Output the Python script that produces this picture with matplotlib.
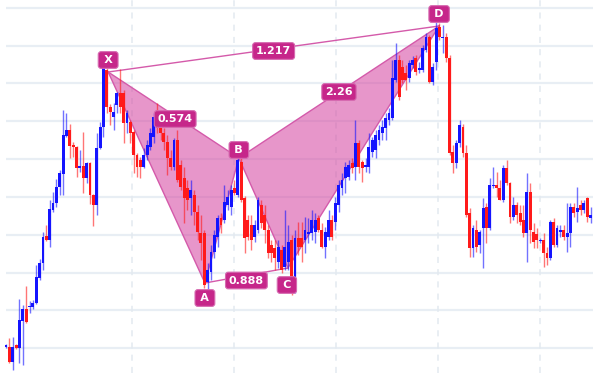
import matplotlib
matplotlib.use("Agg")
import matplotlib.pyplot as plt
import numpy as np

open_d = [347,347,362,345,348,321,309,307,307,303,278,263,236,240,210,203,187,174,136,130,
          145,147,168,166,178,163,195,205,148,127,70,107,117,105,93,93,123,122,132,155,
          160,167,155,147,137,117,127,133,142,158,167,140,165,178,188,198,195,212,233,233,
          282,272,252,237,218,220,205,207,188,195,162,198,220,225,237,230,205,215,230,245,
          248,262,250,267,262,240,290,238,238,240,234,233,232,218,230,247,237,220,222,205,
          188,178,177,163,167,143,162,167,167,152,150,140,133,128,120,118,80,60,67,73,
          78,65,58,70,70,50,37,82,62,27,38,37,58,152,163,143,127,153,213,248,
          230,245,228,207,228,186,185,188,200,168,183,217,205,213,220,233,192,232,234,241,
          240,253,258,222,245,232,230,237,233,207,212,205,210,198,218]
close_d = [345,362,347,348,320,309,322,306,303,277,263,237,240,209,203,187,173,135,130,146,
           147,168,166,178,163,195,205,148,127,68,107,112,112,93,107,123,113,133,155,167,
           167,155,145,133,117,128,133,142,158,167,140,180,187,198,200,190,212,232,243,285,
           270,252,235,218,225,202,197,190,193,160,200,238,237,240,225,200,223,230,253,253,
           258,247,270,247,242,290,238,247,247,230,232,220,220,230,247,232,220,237,203,185,
           180,167,165,168,143,167,168,165,147,140,135,130,127,118,113,78,60,97,80,80,
           63,60,72,68,48,37,82,67,28,37,37,58,153,163,143,125,153,215,248,228,
           247,232,208,228,185,185,188,200,168,183,217,205,215,222,233,192,230,242,240,240,
           253,258,222,245,228,230,237,233,207,213,208,210,203,217,215]
high_d = [344,338,337,344,299,305,286,301,300,265,259,232,225,200,192,179,170,110,113,124,
          142,146,150,132,162,162,194,133,122,66,68,104,103,92,69,90,110,120,130,153,
          157,148,140,128,113,103,120,128,135,150,138,130,160,167,180,180,190,205,215,230,
          263,245,230,215,213,185,190,185,180,158,158,196,215,215,220,197,200,205,225,240,
          240,240,245,210,225,235,230,222,222,217,218,210,213,215,223,227,210,215,197,180,
          173,162,160,158,120,140,160,158,133,137,130,125,120,113,108,60,43,55,60,65,
          60,56,55,62,45,33,35,63,22,23,25,33,55,145,140,120,124,145,208,225,
          220,230,198,203,178,167,172,180,165,160,182,197,202,205,205,173,183,223,228,238,
          233,247,220,218,225,225,225,203,203,203,187,200,200,197,207]
low_d = [348,363,370,349,363,365,323,313,309,304,280,270,241,247,212,207,195,195,137,158,
         157,177,172,193,183,204,226,215,149,137,113,125,130,113,113,143,133,143,173,177,
         178,168,160,150,143,133,140,150,175,170,170,182,190,223,210,215,225,240,260,288,
         302,280,258,247,233,223,210,215,195,197,202,253,240,250,242,233,228,243,258,262,
         270,268,273,270,270,295,293,255,262,253,243,240,243,232,248,258,240,240,230,212,
         195,193,180,173,180,173,182,172,173,157,158,145,140,140,125,120,82,100,83,90,
         82,68,75,73,72,52,83,85,70,40,53,62,155,173,168,147,157,217,257,257,
         252,253,268,243,230,188,197,200,202,185,223,220,223,225,237,262,243,248,248,243,
         267,265,260,247,247,237,240,252,247,217,222,215,213,222,223]

# Harmonic pattern points (candle index, depth from top)
pattern_names = ["X", "A", "B", "C", "D"]
pattern_idx = [30.4, 59.2, 69.3, 83.9, 128.9]
pattern_d = [72, 283, 158, 268, 26]
ratio_labels = ["0.574", "1.217", "0.888", "2.26"]

TOP = 373.0
o = TOP - np.array(open_d, float)
c = TOP - np.array(close_d, float)
h = TOP - np.array(high_d, float)
l = TOP - np.array(low_d, float)
n = len(o)
x = np.arange(n)
py = TOP - np.array(pattern_d, float)
px = np.array(pattern_idx)

fig = plt.figure(figsize=(6.0, 3.73), dpi=100)
ax = fig.add_axes([0, 0, 1, 1])
ax.set_xlim(-6 / 3.36, 594 / 3.36)
ax.set_ylim(0, TOP)
ax.axis("off")

# grid
grid_levels = [365, 327, 290, 252, 214, 176, 138, 100, 63, 25]
for g in grid_levels:
    ax.plot([0, 174.8], [g, g], color="#e8eef4", lw=1.6, zorder=0, solid_capstyle="butt")
vgrid = [37.5, 67.9, 98.2, 128.6, 159.0]
for v in vgrid:
    ax.plot([v, v], [0, TOP], color="#e3eaf0", lw=1.1, ls=(0, (4, 4)), zorder=0)

# pattern fill (under candles)
fill = "#d4419f"
edge = "#d45aaa"
ax.fill([px[0], px[1], px[2]], [py[0], py[1], py[2]], color=fill, alpha=0.55, lw=0, zorder=1)
ax.fill([px[2], px[3], px[4]], [py[2], py[3], py[4]], color=fill, alpha=0.55, lw=0, zorder=1)
for (a, b) in [(0, 1), (1, 2), (0, 2), (2, 3), (3, 4), (2, 4), (0, 4), (1, 3)]:
    ax.plot([px[a], px[b]], [py[a], py[b]], color=edge, lw=1.0, zorder=1.5)

up = c >= o
blue = "#1414ff"
red = "#ff1a1a"
cols = np.where(up, blue, red)
ax.vlines(x, l, h, colors=cols, lw=1.0, alpha=0.6, zorder=2)
bottom = np.minimum(o, c)
height = np.maximum(np.abs(c - o), 1.2)
ax.bar(x, height, bottom=bottom, width=0.85, color=cols, zorder=3, linewidth=0)

box = dict(boxstyle="round,pad=0.3,rounding_size=0.25", fc="#c6278a", ec="#d66ab0", lw=0.8)
# point labels
offs = [12, -15, 8, -17, 12]
for name, xi, yi, dy in zip(pattern_names, px, py, offs):
    ax.text(xi + (-0.3 if name == "C" else 0), yi + dy, "\u2009" + name + "\u2009", color="white",
            fontsize=8, fontweight="bold", ha="center", va="center", bbox=box, zorder=7,
            family="DejaVu Sans")

# ratio labels at segment midpoints
segs = [(0, 2), (0, 4), (1, 3), (2, 4)]
shifts = [(0.5, -4), (0, -2), (0, -5), (0, 0)]
for lab, (a, b), (sx, sy) in zip(ratio_labels, segs, shifts):
    mx = (px[a] + px[b]) / 2 + sx
    my = (py[a] + py[b]) / 2 + sy
    ax.text(mx, my, lab, color="white", fontsize=8, fontweight="bold",
            ha="center", va="center", bbox=box, zorder=7, family="DejaVu Sans")

fig.savefig("out.png", dpi=100)
